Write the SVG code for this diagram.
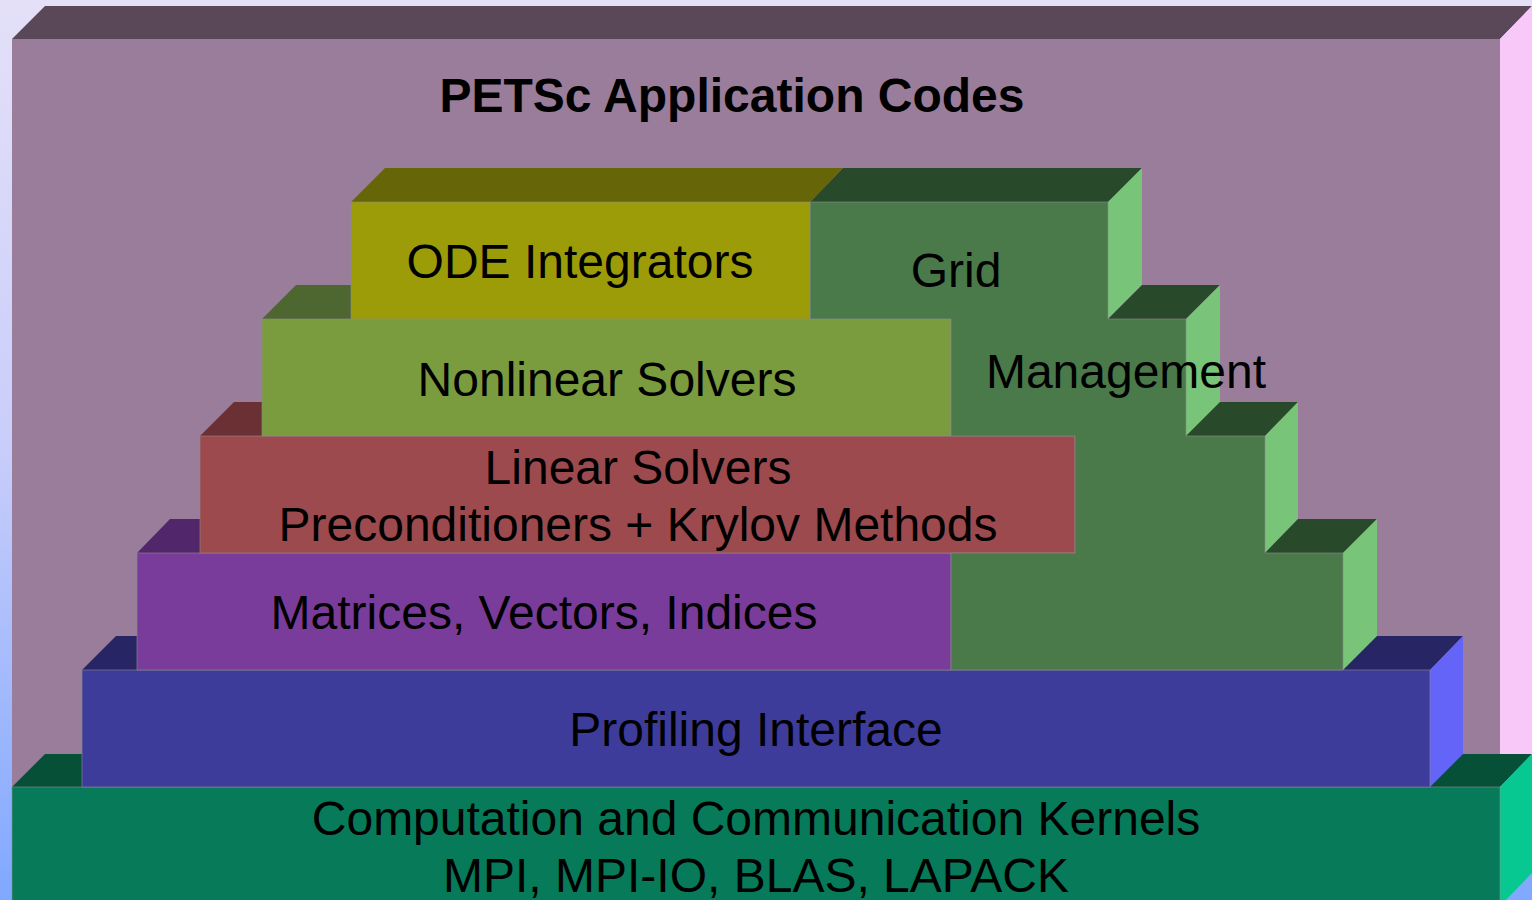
<svg xmlns="http://www.w3.org/2000/svg" width="1532" height="900" viewBox="0 0 1532 900">
<defs>
<linearGradient id="bg" x1="0" y1="0" x2="0" y2="1">
<stop offset="0" stop-color="#e4e0f8"/>
<stop offset="0.5" stop-color="#c8cdfa"/>
<stop offset="1" stop-color="#80a8ff"/>
</linearGradient>
<style>
text{font-family:"Liberation Sans",Arial,sans-serif;font-size:48px;fill:#000;text-anchor:middle}
.title{font-weight:bold}
.edge{stroke:#8c8c8c;stroke-width:1;stroke-opacity:0.6}
</style>
</defs>
<rect x="0" y="0" width="1532" height="900" fill="url(#bg)"/>

<g id="app">
<polygon points="12,39 45,6 1532,6 1500,39" fill="#5a4858"/>
<polygon points="1500,39 1532,6 1532,754 1500,787" fill="#f8c8f8"/>
<rect x="12" y="39" width="1488" height="861" fill="#9a7d9a"/>
<text class="title" x="732" y="112">PETSc Application Codes</text>
</g>

<g id="kernels">
<polygon points="12,787 45,754 1532,754 1500,787" fill="#075038"/>
<polygon points="1500,787 1532,754 1532,873 1500,906" fill="#07c890"/>
<rect x="12" y="787" width="1488" height="120" fill="#077a5a" class="edge"/>
<text x="756" y="835">Computation and Communication Kernels</text>
<text x="756" y="892">MPI, MPI-IO, BLAS, LAPACK</text>
</g>

<g id="profiling">
<polygon points="82,670 116,636 1463,636 1430,670" fill="#272563"/>
<polygon points="1430,670 1463,636 1463,754 1430,787" fill="#6464f8"/>
<rect x="82" y="670" width="1348" height="117" fill="#3e3c9a" class="edge"/>
<text x="756" y="746">Profiling Interface</text>
</g>

<g id="matrices">
<polygon points="137,553 170,519 200,519 200,553" fill="#52266a"/>
<rect x="137" y="553" width="814" height="117" fill="#7a3c9a" class="edge"/>
<text x="544" y="629">Matrices, Vectors, Indices</text>
</g>

<g id="linear">
<polygon points="200,436 234,402 262,402 262,436" fill="#6a3034"/>
<rect x="200" y="436" width="875" height="117" fill="#9c4a4e" class="edge"/>
<text x="638" y="484">Linear Solvers</text>
<text x="638" y="541">Preconditioners + Krylov Methods</text>
</g>

<g id="nonlinear">
<polygon points="262,319 296,285 351,285 351,319" fill="#4e6630"/>
<rect x="262" y="319" width="689" height="117" fill="#7a9c3e" class="edge"/>
<text x="607" y="396">Nonlinear Solvers</text>
</g>

<g id="grid">
<polygon points="810,202 843,168 1142,168 1108,202" fill="#284a2a"/>
<polygon points="1108,202 1142,168 1142,285 1108,319" fill="#78c478"/>
<polygon points="1108,319 1142,285 1220,285 1186,319" fill="#284a2a"/>
<polygon points="1186,319 1220,285 1220,402 1186,436" fill="#78c478"/>
<polygon points="1186,436 1220,402 1298,402 1265,436" fill="#284a2a"/>
<polygon points="1265,436 1298,402 1298,519 1265,553" fill="#78c478"/>
<polygon points="1265,553 1298,519 1377,519 1343,553" fill="#284a2a"/>
<polygon points="1343,553 1377,519 1377,636 1343,670" fill="#78c478"/>
<polygon points="810,202 1108,202 1108,319 1186,319 1186,436 1265,436 1265,553 1343,553 1343,670 951,670 951,553 1075,553 1075,436 951,436 951,319 810,319" fill="#4a7a4a" class="edge"/>
<text x="956" y="287">Grid</text>
<text x="1126" y="388">Management</text>
</g>

<g id="ode">
<polygon points="351,202 385,168 843,168 810,202" fill="#666608"/>
<rect x="351" y="202" width="459" height="117" fill="#9c9c08" class="edge"/>
<text x="580" y="278">ODE Integrators</text>
</g>
</svg>
